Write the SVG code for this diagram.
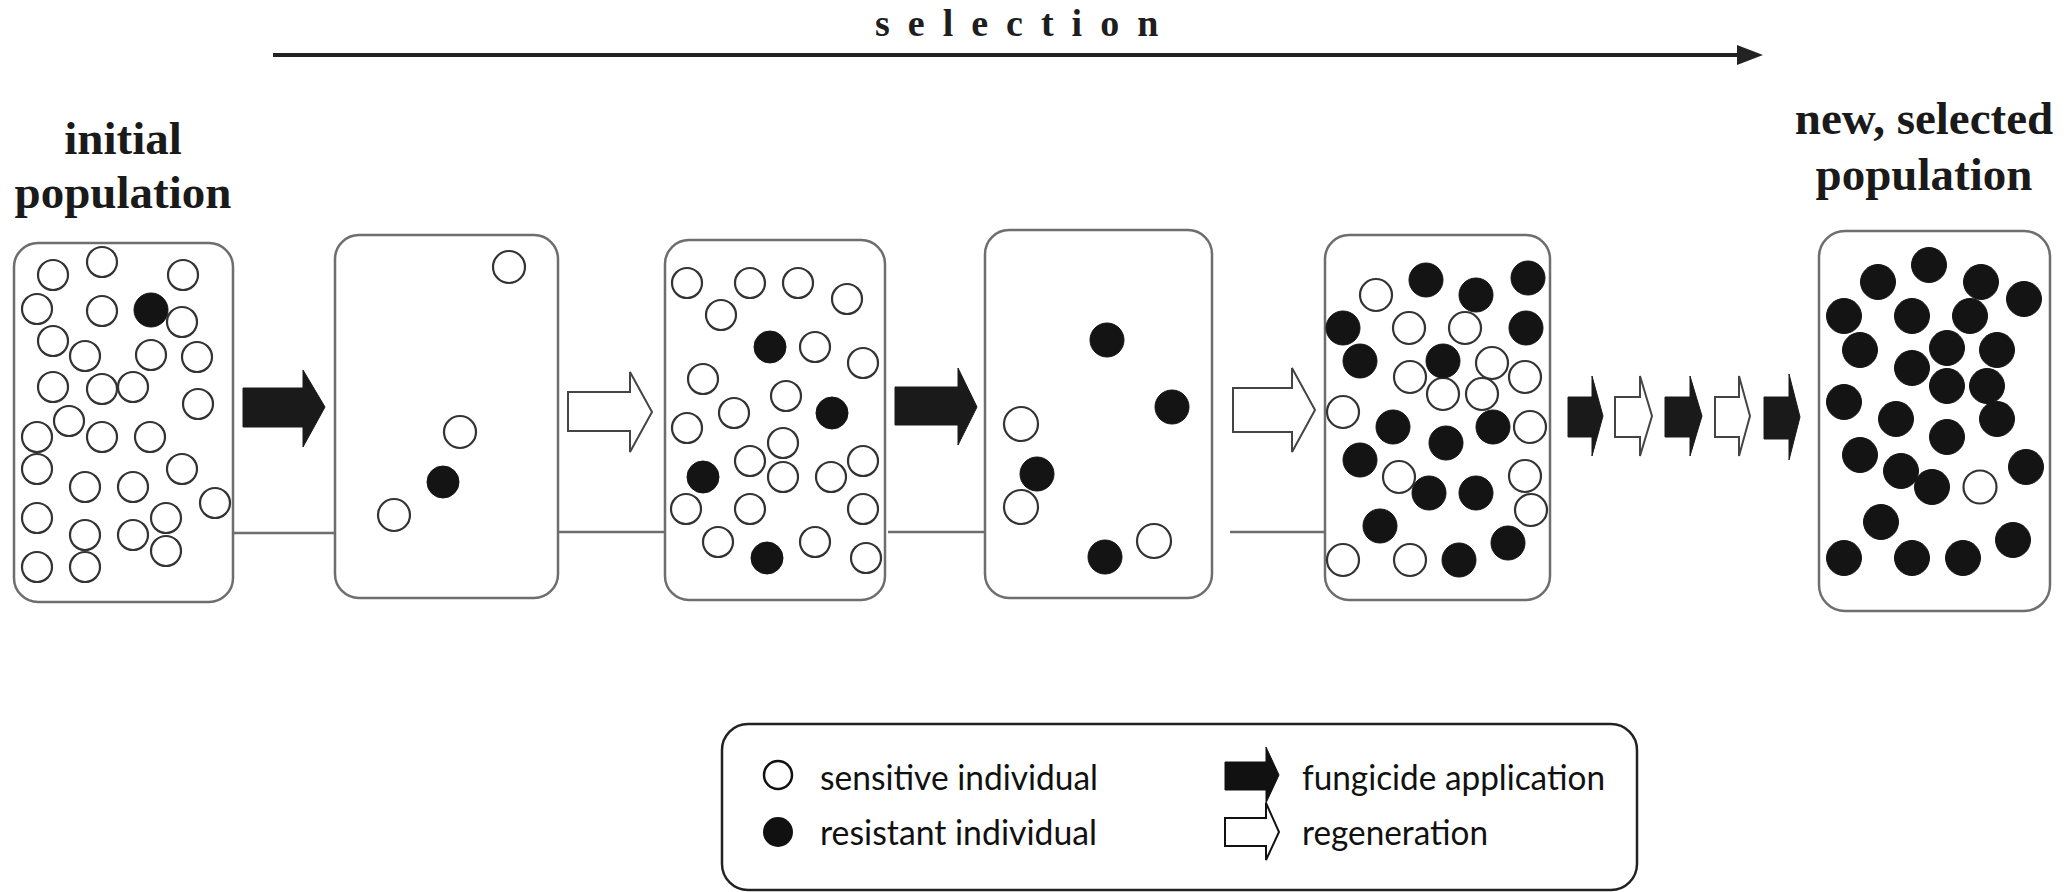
<svg xmlns="http://www.w3.org/2000/svg" width="2070" height="892" viewBox="0 0 2070 892">
<style>
.box{fill:#fff;stroke:#6e6e6e;stroke-width:2.5}
.o{fill:#fff;stroke:#333;stroke-width:2.2}
.b{fill:#141414;stroke:#141414;stroke-width:1}
.conn{stroke:#6e6e6e;stroke-width:2.5;fill:none}
.fa{fill:#1a1a1a;stroke:#1a1a1a;stroke-width:1}
.ra{fill:#fff;stroke:#444;stroke-width:2}
.title{font-family:"Liberation Serif","Times New Roman",serif;font-weight:bold;font-size:47px;fill:#1a1a1a;text-anchor:middle}
.leg{font-family:Lato,"Liberation Sans",sans-serif;font-size:34px;fill:#111}
</style>
<rect width="2070" height="892" fill="#fff"/>

<g id="selection">
<text x="875" y="36" font-family="Liberation Serif,Times New Roman,serif" font-weight="bold" font-size="38" letter-spacing="18" fill="#1e1e1e">selection</text>
<line x1="273" y1="55" x2="1742" y2="55" stroke="#222" stroke-width="4"/>
<polygon points="1737,45 1763,55 1737,65" fill="#222"/>
</g>

<g id="connectors">
<line class="conn" x1="233" y1="533" x2="335" y2="533"/>
<line class="conn" x1="558" y1="532" x2="665" y2="532"/>
<line class="conn" x1="888" y1="532" x2="985" y2="532"/>
<line class="conn" x1="1230" y1="532" x2="1325" y2="532"/>
<polygon class="fa" points="243,388 303,388 303,370 325,407 303,447 303,427 243,427"/>
<polygon class="ra" points="568,392 630,392 630,372 652,412 630,452 630,431 568,431"/>
<polygon class="fa" points="895,387 958,387 958,368 977,407 958,445 958,425 895,425"/>
<polygon class="ra" points="1233,388 1292,388 1292,368 1315,410 1292,452 1292,432 1233,432"/>
<polygon class="fa" points="1568,397 1592,397 1592,376 1603,416 1592,456 1592,437 1568,437"/>
<polygon class="ra" points="1615,397 1640,397 1640,376 1652,416 1640,456 1640,437 1615,437"/>
<polygon class="fa" points="1665,397 1690,397 1690,376 1702,416 1690,456 1690,437 1665,437"/>
<polygon class="ra" points="1715,397 1739,397 1739,376 1750,416 1739,456 1739,437 1715,437"/>
<polygon class="fa" points="1764,397 1789,397 1789,374 1800,417 1789,460 1789,439 1764,439"/>
</g>

<g id="initial-population">
<text class="title" x="123" y="154">initial</text>
<text class="title" x="123" y="208">population</text>
<rect class="box" x="14" y="243" width="219" height="359" rx="24"/>
<g class="o">
<circle cx="53" cy="275" r="15"/><circle cx="102" cy="262" r="15"/><circle cx="183" cy="275" r="15"/>
<circle cx="37" cy="309" r="15"/><circle cx="102" cy="311" r="15"/><circle cx="182" cy="322" r="15"/>
<circle cx="53" cy="341" r="15"/><circle cx="85" cy="356" r="15"/><circle cx="151" cy="355" r="15"/>
<circle cx="197" cy="357" r="15"/><circle cx="53" cy="387" r="15"/><circle cx="102" cy="389" r="15"/>
<circle cx="133" cy="387" r="15"/><circle cx="198" cy="404" r="15"/><circle cx="69" cy="421" r="15"/>
<circle cx="37" cy="437" r="15"/><circle cx="102" cy="437" r="15"/><circle cx="150" cy="437" r="15"/>
<circle cx="37" cy="469" r="15"/><circle cx="182" cy="469" r="15"/><circle cx="85" cy="487" r="15"/>
<circle cx="133" cy="487" r="15"/><circle cx="215" cy="503" r="15"/><circle cx="37" cy="518" r="15"/>
<circle cx="166" cy="518" r="15"/><circle cx="85" cy="535" r="15"/><circle cx="133" cy="535" r="15"/>
<circle cx="166" cy="551" r="15"/><circle cx="37" cy="567" r="15"/><circle cx="85" cy="567" r="15"/>
</g>
<circle class="b" cx="151" cy="310" r="17"/>
</g>

<g id="population-2">
<rect class="box" x="335" y="235" width="223" height="363" rx="24"/>
<circle class="o" cx="509" cy="267" r="16"/>
<circle class="o" cx="460" cy="432" r="16"/>
<circle class="b" cx="443" cy="482" r="16"/>
<circle class="o" cx="394" cy="515" r="16"/>
</g>

<g id="population-3">
<rect class="box" x="665" y="240" width="220" height="360" rx="24"/>
<g class="o">
<circle cx="687" cy="283" r="15"/><circle cx="750" cy="283" r="15"/><circle cx="798" cy="283" r="15"/>
<circle cx="847" cy="299" r="15"/><circle cx="721" cy="315" r="15"/><circle cx="815" cy="347" r="15"/>
<circle cx="863" cy="363" r="15"/><circle cx="703" cy="379" r="15"/><circle cx="786" cy="396" r="15"/>
<circle cx="734" cy="413" r="15"/><circle cx="687" cy="428" r="15"/><circle cx="783" cy="443" r="15"/>
<circle cx="750" cy="461" r="15"/><circle cx="863" cy="461" r="15"/><circle cx="783" cy="477" r="15"/>
<circle cx="831" cy="477" r="15"/><circle cx="686" cy="509" r="15"/><circle cx="750" cy="509" r="15"/>
<circle cx="863" cy="509" r="15"/><circle cx="718" cy="542" r="15"/><circle cx="815" cy="542" r="15"/>
<circle cx="866" cy="558" r="15"/>
</g>
<g class="b">
<circle cx="770" cy="347" r="16"/><circle cx="832" cy="413" r="16"/><circle cx="703" cy="477" r="16"/><circle cx="767" cy="558" r="16"/>
</g>
</g>

<g id="population-4">
<rect class="box" x="985" y="230" width="227" height="368" rx="24"/>
<g class="b">
<circle cx="1107" cy="340" r="17"/><circle cx="1172" cy="407" r="17"/><circle cx="1037" cy="474" r="17"/><circle cx="1105" cy="557" r="17"/>
</g>
<g class="o">
<circle cx="1021" cy="424" r="17"/><circle cx="1021" cy="507" r="17"/><circle cx="1154" cy="541" r="17"/>
</g>
</g>

<g id="population-5">
<rect class="box" x="1325" y="235" width="225" height="365" rx="24"/>
<g class="o">
<circle cx="1376" cy="295" r="16"/><circle cx="1409" cy="328" r="16"/><circle cx="1465" cy="328" r="16"/>
<circle cx="1492" cy="363" r="16"/><circle cx="1410" cy="377" r="16"/><circle cx="1525" cy="377" r="16"/>
<circle cx="1443" cy="394" r="16"/><circle cx="1482" cy="394" r="16"/><circle cx="1343" cy="412" r="16"/>
<circle cx="1530" cy="427" r="16"/><circle cx="1399" cy="477" r="16"/><circle cx="1525" cy="476" r="16"/>
<circle cx="1531" cy="510" r="16"/><circle cx="1343" cy="560" r="16"/><circle cx="1410" cy="560" r="16"/>
</g>
<g class="b">
<circle cx="1426" cy="280" r="17"/><circle cx="1476" cy="295" r="17"/><circle cx="1528" cy="278" r="17"/>
<circle cx="1343" cy="328" r="17"/><circle cx="1526" cy="328" r="17"/><circle cx="1360" cy="361" r="17"/>
<circle cx="1443" cy="361" r="17"/><circle cx="1393" cy="427" r="17"/><circle cx="1493" cy="427" r="17"/>
<circle cx="1446" cy="443" r="17"/><circle cx="1360" cy="460" r="17"/><circle cx="1429" cy="493" r="17"/>
<circle cx="1476" cy="493" r="17"/><circle cx="1380" cy="526" r="17"/><circle cx="1508" cy="543" r="17"/>
<circle cx="1459" cy="560" r="17"/>
</g>
</g>

<g id="new-selected-population">
<text class="title" x="1924" y="134">new, selected</text>
<text class="title" x="1924" y="190">population</text>
<rect class="box" x="1819" y="231" width="231" height="380" rx="26"/>
<g class="b">
<circle cx="1878" cy="282" r="17.5"/><circle cx="1929" cy="265" r="17.5"/><circle cx="1981" cy="282" r="17.5"/>
<circle cx="2024" cy="299" r="17.5"/><circle cx="1844" cy="316" r="17.5"/><circle cx="1912" cy="316" r="17.5"/>
<circle cx="1970" cy="316" r="17.5"/><circle cx="1860" cy="350" r="17.5"/><circle cx="1947" cy="348" r="17.5"/>
<circle cx="1997" cy="350" r="17.5"/><circle cx="1912" cy="368" r="17.5"/><circle cx="1947" cy="386" r="17.5"/>
<circle cx="1987" cy="386" r="17.5"/><circle cx="1844" cy="402" r="17.5"/><circle cx="1896" cy="419" r="17.5"/>
<circle cx="1997" cy="419" r="17.5"/><circle cx="1947" cy="437" r="17.5"/><circle cx="1860" cy="455" r="17.5"/>
<circle cx="1901" cy="471" r="17.5"/><circle cx="1932" cy="487" r="17.5"/><circle cx="2026" cy="467" r="17.5"/>
<circle cx="1881" cy="522" r="17.5"/><circle cx="1844" cy="558" r="17.5"/><circle cx="1912" cy="558" r="17.5"/>
<circle cx="1963" cy="558" r="17.5"/><circle cx="2013" cy="540" r="17.5"/>
</g>
<circle class="o" cx="1980" cy="487" r="16.5"/>
</g>

<g id="legend">
<rect x="722" y="724" width="915" height="166" rx="26" fill="#fff" stroke="#222" stroke-width="2.5"/>
<circle cx="778" cy="775" r="14" fill="#fff" stroke="#111" stroke-width="2.5"/>
<circle cx="778" cy="832" r="15" fill="#111"/>
<text class="leg" x="820" y="790" textLength="278" lengthAdjust="spacingAndGlyphs">sensitive individual</text>
<text class="leg" x="820" y="845" textLength="277" lengthAdjust="spacingAndGlyphs">resistant individual</text>
<polygon points="1225,762 1266,762 1266,747 1279,775 1266,803 1266,790 1225,790" fill="#111" stroke="#111" stroke-width="1"/>
<polygon points="1225,818 1266,818 1266,803 1279,832 1266,860 1266,846 1225,846" fill="#fff" stroke="#111" stroke-width="2"/>
<text class="leg" x="1302" y="790" textLength="303" lengthAdjust="spacingAndGlyphs">fungicide application</text>
<text class="leg" x="1302" y="845" textLength="186" lengthAdjust="spacingAndGlyphs">regeneration</text>
</g>
</svg>
